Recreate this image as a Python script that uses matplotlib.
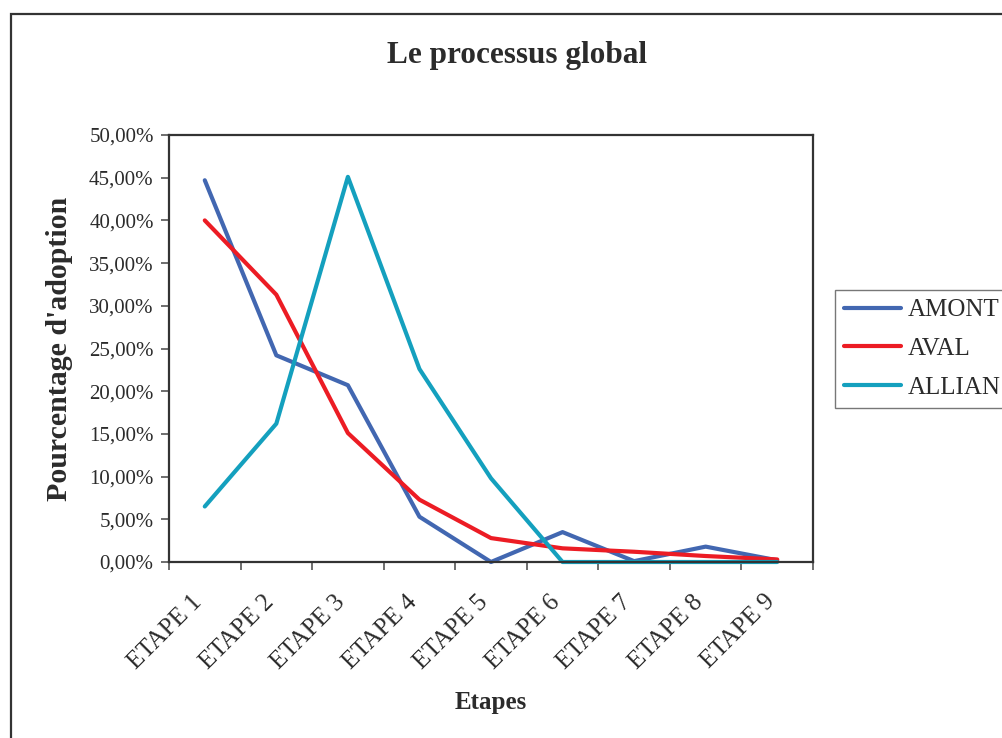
import matplotlib.pyplot as plt
import matplotlib.patches as patches
import matplotlib.transforms as mtransforms
import numpy as np
from matplotlib.ticker import FuncFormatter, FixedLocator

# data (percent)
etapes = ['ETAPE 1', 'ETAPE 2', 'ETAPE 3', 'ETAPE 4', 'ETAPE 5',
          'ETAPE 6', 'ETAPE 7', 'ETAPE 8', 'ETAPE 9']
amont = [44.7, 24.2, 20.7, 5.3, 0.0, 3.5, 0.1, 1.8, 0.2]
aval = [40.0, 31.3, 15.1, 7.3, 2.8, 1.6, 1.2, 0.7, 0.3]
allian = [6.5, 16.2, 45.1, 22.6, 9.8, 0.0, 0.0, 0.0, 0.0]

plt.rcParams['font.family'] = ['Liberation Serif', 'DejaVu Serif']
txt = '#2b2b2b'

fig = plt.figure(figsize=(10.03, 7.38), dpi=100)
ax = fig.add_axes([169/1003, 1-562/738, (813-169)/1003, (562-135)/738])

x = np.arange(len(etapes)) + 0.5
ax.plot(x, amont, color='#4267b1', lw=3, label='AMONT', solid_capstyle='round',
        solid_joinstyle='round', clip_on=False)
ax.plot(x, aval, color='#ec1c24', lw=3, label='AVAL', solid_capstyle='round',
        solid_joinstyle='round', clip_on=False)
ax.plot(x, allian, color='#14a0be', lw=3, label='ALLIAN', solid_capstyle='round',
        solid_joinstyle='round', clip_on=False)

ax.set_xlim(0, len(etapes))
ax.set_ylim(0, 50)
ax.set_yticks(np.arange(0, 51, 5))
ax.yaxis.set_major_formatter(FuncFormatter(lambda v, p: ('%.2f%%' % v).replace('.', ',')))

ax.xaxis.set_major_locator(FixedLocator(np.arange(0, len(etapes) + 1)))
ax.xaxis.set_minor_locator(FixedLocator(x))
ax.set_xticklabels([], minor=False)
ax.set_xticklabels(etapes, minor=True, rotation=45, ha='right', va='top',
                   rotation_mode='anchor', fontsize=18, color=txt)
ax.tick_params(axis='x', which='minor', length=0, pad=12)
ax.tick_params(axis='both', which='major', length=6, width=1.2, color='#555555',
               direction='out')
ax.tick_params(axis='y', labelsize=15, labelcolor=txt, pad=5)

# shift the rotated labels a little down-left, like the original
shift = mtransforms.ScaledTranslation(-14/100, -12/100, fig.dpi_scale_trans)
for lab in ax.get_xticklabels(minor=True):
    lab.set_transform(lab.get_transform() + shift)

for s in ax.spines.values():
    s.set_color('#333333')
    s.set_linewidth(1.6)

fig.text(517/1003, 1-55/738, 'Le processus global', ha='center', va='center',
         fontsize=22.5, fontweight='bold', color=txt)
fig.text(491/1003, 1-703/738, 'Etapes', ha='center', va='center',
         fontsize=18, fontweight='bold', color=txt)
fig.text(60/1003, 1-349/738, "Pourcentage d'adoption", ha='center', va='center',
         rotation=90, fontsize=21.5, fontweight='bold', color=txt)

leg = fig.legend(loc='upper left', bbox_to_anchor=(835/1003, 1-290/738),
                 frameon=True, fancybox=False, fontsize=18, handlelength=2.3,
                 handletextpad=0.25, borderaxespad=0, borderpad=0.35,
                 labelspacing=0.65)
leg.get_frame().set_edgecolor('#555555')
leg.get_frame().set_linewidth(1.0)
for t in leg.get_texts():
    t.set_color(txt)

# outer chart border (cut off at right and bottom)
fig.patches.append(patches.Rectangle((11/1003, -0.1), 1.2, 1.1 - 14/738,
                                     transform=fig.transFigure, fill=False,
                                     edgecolor='#333333', lw=1.6))

fig.savefig('out.png', dpi=100)
